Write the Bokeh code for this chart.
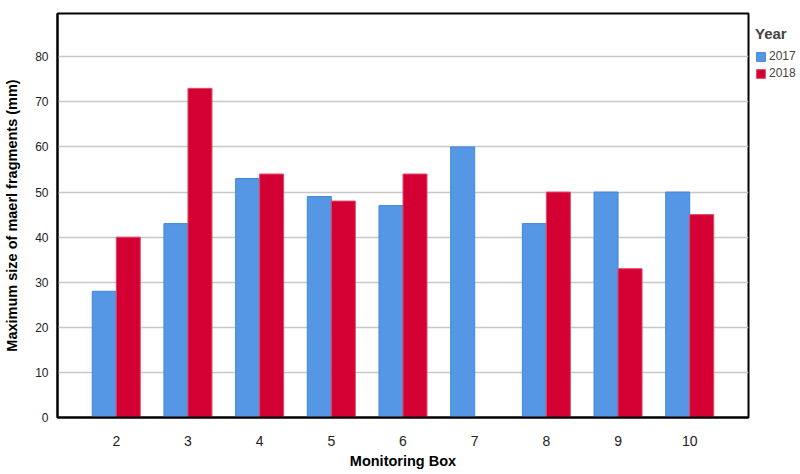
from bokeh.plotting import figure
from bokeh.models import ColumnDataSource, Legend, LegendItem, Range1d, FixedTicker
from bokeh.embed import file_html
from bokeh.resources import INLINE

# Monitoring boxes and maximum maerl fragment size (mm) per year
boxes = ["2", "3", "4", "5", "6", "7", "8", "9", "10"]
size_2017 = [28, 43, 53, 49, 47, 60, 43, 50, 50]
size_2018 = [40, 73, 54, 48, 54, None, 50, 33, 45]

y_ticks = [0, 10, 20, 30, 40, 50, 60, 70, 80]

BLUE = "#5597E4"
RED = "#D40033"
FONT = "Liberation Sans"

bar_w = 0.335
pos = list(range(len(boxes)))

src17 = ColumnDataSource(dict(x=[i - bar_w / 2 for i in pos], top=size_2017))
keep = [i for i, v in enumerate(size_2018) if v is not None]
src18 = ColumnDataSource(dict(x=[pos[i] + bar_w / 2 for i in keep],
                              top=[size_2018[i] for i in keep]))

p = figure(width=800, height=474, frame_width=691, frame_height=404,
           output_backend="svg", toolbar_location=None,
           x_range=Range1d(-0.82, len(boxes) - 1 + 0.82),
           y_range=Range1d(0, 89.6))

p.min_border_left = 57
p.min_border_right = 52
p.min_border_top = 13
p.min_border_bottom = 57

r17 = p.vbar(x="x", top="top", width=bar_w, source=src17,
             fill_color=BLUE, line_color="#3F86DC", line_width=1)
r18 = p.vbar(x="x", top="top", width=bar_w, source=src18,
             fill_color=RED, line_color="#E24A6A", line_width=1)

# axes
p.xaxis.ticker = FixedTicker(ticks=pos)
p.xaxis.major_label_overrides = {i: b for i, b in enumerate(boxes)}
p.yaxis.ticker = FixedTicker(ticks=y_ticks)

for ax in (p.xaxis[0], p.yaxis[0]):
    ax.axis_line_color = "black"
    ax.axis_line_width = 2
    ax.major_tick_line_color = None
    ax.minor_tick_line_color = None
    ax.major_label_text_font = FONT
    ax.major_label_text_font_size = "12px"
    ax.major_label_text_color = "#222222"
    ax.axis_label_text_font = FONT
    ax.axis_label_text_font_style = "bold"
    ax.axis_label_text_font_size = "14.5px"
    ax.axis_label_text_color = "black"

p.xaxis.major_label_text_font_size = "14px"
p.xaxis.axis_label = "Monitoring Box"
p.yaxis.axis_label = "Maximum size of maerl fragments (mm)"
p.xaxis.major_label_standoff = 12
p.xaxis.axis_label_standoff = 4
p.yaxis.major_label_standoff = 3
p.yaxis.axis_label_standoff = 12

p.xgrid.grid_line_color = None
p.ygrid.grid_line_color = "#C8C8C8"
p.ygrid.grid_line_width = 1.5

p.outline_line_color = "black"
p.outline_line_width = 2
p.background_fill_color = "white"
p.border_fill_color = "white"

# legend in the right-hand panel, just beside the plot frame
legend = Legend(items=[LegendItem(label="2017", renderers=[r17]),
                       LegendItem(label="2018", renderers=[r18])],
                title="Year", location=(7, 337))
legend.title_text_font = FONT
legend.title_text_font_style = "bold"
legend.title_text_font_size = "15px"
legend.title_standoff = 7
legend.label_text_font = FONT
legend.label_text_font_size = "12px"
legend.glyph_width = 11
legend.glyph_height = 11
legend.label_standoff = 3
legend.label_height = 11
legend.spacing = 3
legend.padding = 0
legend.margin = 0
legend.border_line_color = None
legend.background_fill_alpha = 0
p.add_layout(legend, "right")

open("out.html", "w").write(file_html(p, INLINE))
